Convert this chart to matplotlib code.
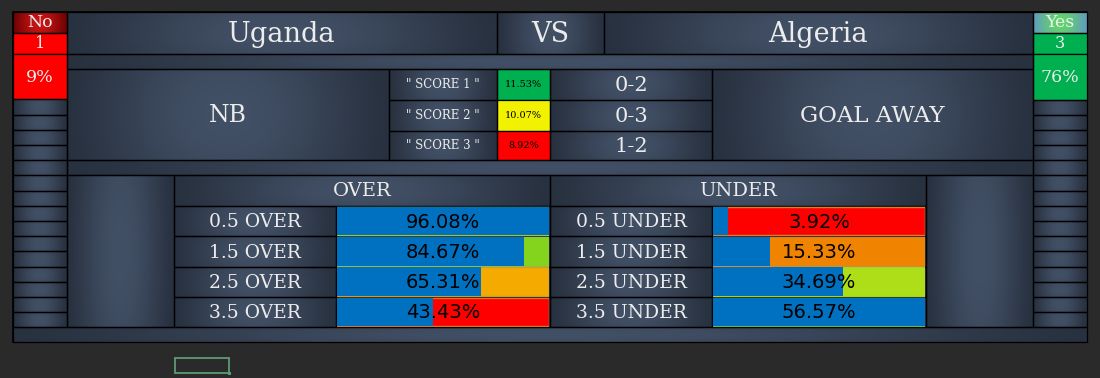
import numpy as np
import matplotlib
matplotlib.use("Agg")
import matplotlib.pyplot as plt
from matplotlib.patches import Rectangle

# ---------------- data ----------------
home_team = "Uganda"
away_team = "Algeria"
vs_label = "VS"
no_label, no_count, no_pct = "No", 1, 9
yes_label, yes_count, yes_pct = "Yes", 3, 76
prediction_left = "NB"
prediction_right = "GOAL AWAY"
score_labels = ['" SCORE 1 "', '" SCORE 2 "', '" SCORE 3 "']
score_probs = [11.53, 10.07, 8.92]
score_results = ["0-2", "0-3", "1-2"]
over_title = "OVER"
under_title = "UNDER"
over_labels = ["0.5 OVER", "1.5 OVER", "2.5 OVER", "3.5 OVER"]
over_values = [96.08, 84.67, 65.31, 43.43]
under_labels = ["0.5 UNDER", "1.5 UNDER", "2.5 UNDER", "3.5 UNDER"]
under_values = [3.92, 15.33, 34.69, 56.57]

# ---------------- styles ----------------
score_colors = ["#00b050", "#f2f200", "#ff0000"]
over_bg = ["#0070c0", "#84d41e", "#f5aa00", "#ff0000"]
over_edge = ["#a8c43a", "#8cc43a", "#c8a030", "#e07020"]
under_bg = ["#ff0000", "#f08300", "#aede18", "#0070c0"]
under_edge = ["#d88030", "#d88030", "#a8d030", "#5cc040"]
bar_blue = "#0070c0"
txt = "#ececec"
serif = "DejaVu Serif"

fig = plt.figure(figsize=(11, 3.78), dpi=100)
fig.patch.set_facecolor("#2a2a2a")
ax = fig.add_axes([0, 0, 1, 1])
ax.axis("off")

dark = np.array([36, 44, 57]) / 255
light = np.array([66, 80, 102]) / 255


def metal(x0, y0, x1, y1, c0=dark, c1=light, edge=True):
    w = max(int(x1 - x0), 2)
    h = max(int(y1 - y0), 2)
    t = np.linspace(0, 1, w)
    s = np.linspace(0, 1, h)
    px = np.sin(np.pi * t) ** 1.3
    py = 1 - 0.15 * (2 * s - 1) ** 2
    inten = (0.15 + 0.85 * px[None, :]) * py[:, None]
    img = c0 + (c1 - c0) * inten[..., None]
    ax.imshow(np.clip(img, 0, 1), extent=(x0, x1, y1, y0), aspect="auto",
              interpolation="bilinear", zorder=1)
    if edge:
        ax.add_patch(Rectangle((x0, y0), x1 - x0, y1 - y0, fill=False,
                               ec="black", lw=0.9, zorder=4))


def solid(x0, y0, x1, y1, color):
    ax.add_patch(Rectangle((x0, y0), x1 - x0, y1 - y0, fc=color,
                           ec="black", lw=0.9, zorder=2))


def label(x, y, s, size, color=txt, family=serif, **kw):
    ax.text(x, y, s, fontsize=size, color=color, family=family,
            ha="center", va="center", zorder=6, **kw)


# outer panel
ax.add_patch(Rectangle((13, 12), 1074, 330, fc="#2f3a4a", ec="black", lw=1.2, zorder=0))

# ---- left column ----
metal(13, 12, 67, 33, np.array([100, 0, 0]) / 255, np.array([200, 20, 20]) / 255)
label(40, 22.5, no_label, 12.5)
solid(13, 33, 67, 54, "#ff0000")
label(40, 43.5, str(no_count), 11.5)
solid(13, 54, 67, 99, "#ff0000")
label(40, 77, f"{no_pct}%", 12.5)
stripe_y = [99, 115, 130, 145, 160, 175, 191, 206, 221, 236, 251, 267, 282, 297, 312, 327]
for a, b in zip(stripe_y[:-1], stripe_y[1:]):
    metal(13, a, 67, b)

# ---- right column ----
metal(1033, 12, 1087, 33, np.array([96, 150, 200]) / 255, np.array([100, 210, 110]) / 255)
label(1060, 22.5, yes_label, 12.5, color="#eaf5e6")
solid(1033, 33, 1087, 54, "#00b050")
label(1060, 43.5, str(yes_count), 11.5)
solid(1033, 54, 1087, 100, "#00b050")
label(1060, 78, f"{yes_pct}%", 12.5)
stripe_y2 = [100, 115, 130, 145, 160, 175, 191, 206, 221, 236, 251, 267, 282, 297, 312, 327]
for a, b in zip(stripe_y2[:-1], stripe_y2[1:]):
    metal(1033, a, 1087, b)

# ---- header row ----
metal(67, 12, 497, 54)
label(282, 34, home_team, 19.5)
metal(497, 12, 604, 54)
label(550, 34, vs_label, 19.5)
metal(604, 12, 1033, 54)
label(818, 34, away_team, 19.5)
metal(67, 54, 1033, 69)

# ---- prediction block ----
metal(67, 69, 389, 160)
label(228, 116, prediction_left, 17)
metal(712, 69, 1033, 160)
label(872, 116, prediction_right, 16.5)
row_y = [69, 100, 131, 160]
for i in range(3):
    a, b = row_y[i], row_y[i + 1]
    metal(389, a, 497, b)
    label(443, (a + b) / 2, score_labels[i], 8.5)
    solid(497, a, 550, b, score_colors[i])
    label(523.5, (a + b) / 2, f"{score_probs[i]:.2f}%", 7, color="black")
    metal(550, a, 712, b)
    label(631, (a + b) / 2 + 1, score_results[i], 15)
metal(67, 160, 1033, 175)

# ---- over / under block ----
metal(67, 175, 174, 327)
metal(926, 175, 1033, 327)
metal(174, 175, 550, 206)
label(362, 191, over_title, 14)
metal(550, 175, 926, 206)
label(738, 191, under_title, 14)
ou_rows = [206, 236, 267, 297, 327]
for i in range(4):
    a, b = ou_rows[i], ou_rows[i + 1]
    metal(174, a, 336, b)
    label(255, (a + b) / 2 + 1, over_labels[i], 13.5)
    metal(550, a, 712, b)
    label(631, (a + b) / 2 + 1, under_labels[i], 13.5)
    ax.add_patch(Rectangle((336, a), 214, b - a, fc="none", ec="black", lw=0.9, zorder=4))
    ax.add_patch(Rectangle((712, a), 214, b - a, fc="none", ec="black", lw=0.9, zorder=4))
metal(13, 327, 1087, 342)

# selection marker below
ax.add_patch(Rectangle((175, 358), 54, 15, fc="none", ec="#5e9c76", lw=1.3, zorder=5))
ax.add_patch(Rectangle((227.5, 371.5), 3, 3, fc="#5e9c76", ec="none", zorder=5))

ax.set_xlim(0, 1100)
ax.set_ylim(378, 0)

# ---- data bars (own axes, scaled to max of group) ----
W, H = 1100.0, 378.0


def bar_axes(x0, values, bgs, edges):
    bax = fig.add_axes([(x0 + 1) / W, 1 - 327 / H, 212 / W, (327 - 206) / H])
    bax.set_facecolor("none")
    vmax = max(values)
    n = len(values)
    ypos = np.arange(n)
    bax.barh(ypos, [vmax] * n, height=0.94, color=bgs, edgecolor=edges, linewidth=1.0, zorder=1)
    bax.barh(ypos, values, height=0.94, color=bar_blue, edgecolor="none", zorder=2)
    for yv, v in zip(ypos, values):
        bax.text(vmax / 2, yv + 0.03, f"{v:.2f}%", ha="center", va="center",
                 fontsize=14, color="black", family="DejaVu Sans", zorder=3)
    bax.set_xlim(0, vmax)
    bax.set_ylim(n - 0.5, -0.5)
    bax.axis("off")


bar_axes(336, over_values, over_bg, over_edge)
bar_axes(712, under_values, under_bg, under_edge)

fig.savefig("out.png", dpi=100, facecolor=fig.get_facecolor())
